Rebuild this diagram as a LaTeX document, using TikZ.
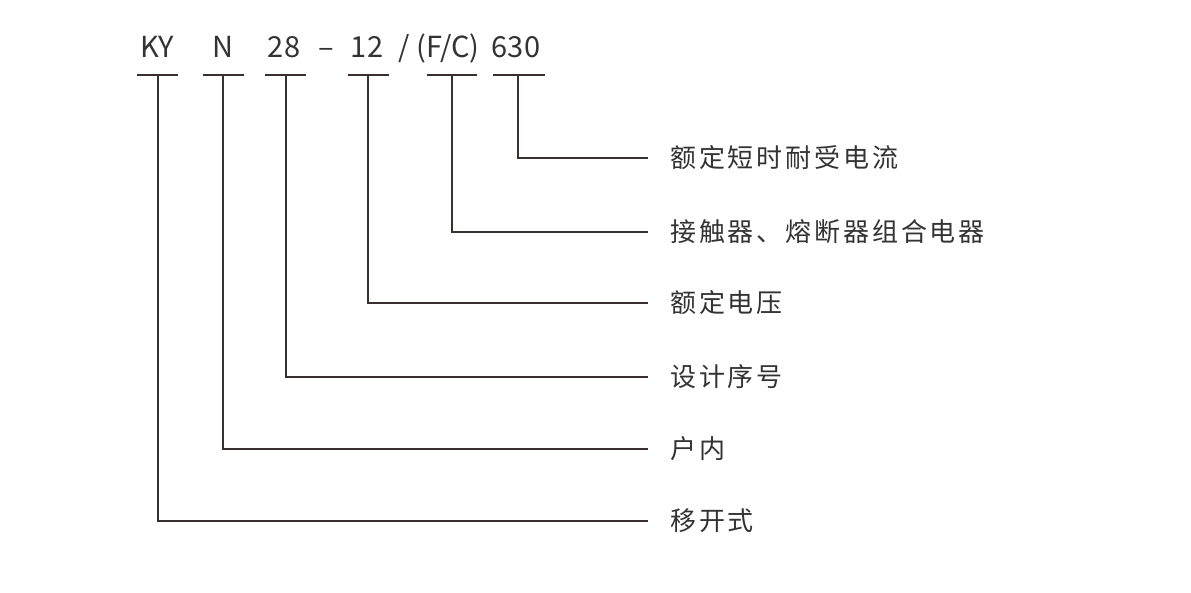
\documentclass[tikz,border=0pt]{standalone}
\usepackage{fontspec}
\setmainfont{Noto Sans CJK SC}
\newfontfamily\labelfont[LetterSpace=11]{Noto Sans CJK SC}
\usepackage{xcolor}
\usepackage{tikz}
\definecolor{inkline}{HTML}{3B3030}
\definecolor{inktext}{HTML}{333333}

\tikzset{
  code/.style={text=inktext, font=\fontsize{29}{32}\selectfont, inner sep=0pt, anchor=base},
  bar/.style={draw=inkline, line width=1.1pt},
  lead/.style={draw=inkline, line width=1.1pt},
  meaning/.style={text=inktext, font=\labelfont\fontsize{26}{30}\selectfont, anchor=west, inner xsep=22pt, inner ysep=0pt}
}

\begin{document}
\begin{tikzpicture}[x=1pt,y=-1pt]
        \useasboundingbox (0,0) rectangle (1191,593);

        % Model code
        \node[code] (ky) at (157,58) {KY};
        \node[code] (n) at (223,58) {N};
        \node[code] (num) at (284,58) {28};
        \node[code] (dash) at (326,58) {–};
        \node[code] (volt) at (367,58) {12};
        \node[code] (slash) at (404,58) {/};
        \node[code] (fc) at (448,58) {(F/C)};
        \node[code] (cur) at (516,58) {630};

        % Underline bars
        \draw[bar] (137,75) -- (178,75);
        \draw[bar] (203,75) -- (244,75);
        \draw[bar] (265,75) -- (306,75);
        \draw[bar] (348,75) -- (389,75);
        \draw[bar] (427,75) -- (477,75);
        \draw[bar] (493,75) -- (545,75);
        \coordinate (kyB) at (158,75);
        \coordinate (nB) at (223,75);
        \coordinate (numB) at (286,75);
        \coordinate (voltB) at (368,75);
        \coordinate (fcB) at (452,75);
        \coordinate (curB) at (518,75);

        % Meanings
        \node[meaning] (curL) at (648,158) {额定短时耐受电流};
        \node[meaning] (fcL) at (648,232) {接触器、熔断器组合电器};
        \node[meaning] (voltL) at (648,303) {额定电压};
        \node[meaning] (numL) at (648,377) {设计序号};
        \node[meaning] (nL) at (648,449) {户内};
        \node[meaning] (kyL) at (648,521) {移开式};

        % Leaders
        \draw[lead] (curB) |- (curL.west);
        \draw[lead] (fcB) |- (fcL.west);
        \draw[lead] (voltB) |- (voltL.west);
        \draw[lead] (numB) |- (numL.west);
        \draw[lead] (nB) |- (nL.west);
        \draw[lead] (kyB) |- (kyL.west);
\end{tikzpicture}
\end{document}
